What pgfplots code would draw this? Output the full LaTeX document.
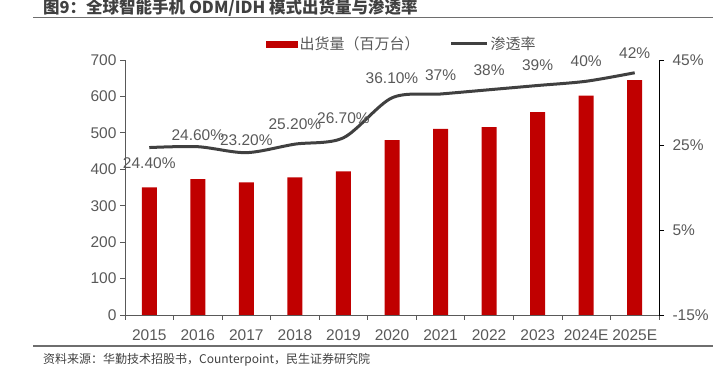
\documentclass[border=0pt]{standalone}
\usepackage{pgfplots}
\pgfplotsset{compat=1.18}
\usepackage{pgfplotstable}
\usepackage{fontspec}
\setmainfont{Liberation Sans}
\newfontfamily\cjk{Noto Sans CJK SC}
\definecolor{barred}{HTML}{C00000}
\definecolor{linegray}{HTML}{404040}
\definecolor{txtgray}{HTML}{595959}
\definecolor{rulegray}{HTML}{6E6E6E}
\pgfplotstableread{
x y
0 350
1 373
2 364
3 378
4 394
5 480
6 511
7 516
8 557
9 602
10 645
}\bartable
\pgfplotstableread{
x p lab dy
0 24.4 24.40 -15.5
1 24.6 24.60 12
2 23.2 23.20 12
3 25.2 25.20 20
4 26.7 26.70 20
5 36.1 36.10 20
6 37 37 19
7 38 38 20
8 39 39 20
9 40 40 20
10 42 42 20
}\linetable
\begin{document}
\begin{tikzpicture}
\path[use as bounding box] (0pt,0pt) rectangle (724pt,374pt);
\node[anchor=west, inner sep=0pt, text=linegray, font=\cjk\bfseries\fontsize{16.5}{19}\selectfont] at (43pt,366pt) {图9：全球智能手机 ODM/IDH 模式出货量与渗透率};
\draw[rulegray, line width=1.2pt] (33pt,356.5pt) -- (713pt,356.5pt);
\draw[rulegray, line width=1.2pt] (33pt,28pt) -- (713pt,28pt);
\node[anchor=west, inner sep=0pt, text=linegray, font=\cjk\fontsize{12}{14}\selectfont] at (43pt,14pt) {资料来源：华勤技术招股书，Counterpoint，民生证券研究院};
\begin{axis}[
  at={(125pt,59pt)}, anchor=south west,
  width=534pt, height=255pt, scale only axis,
  xmin=-0.5, xmax=10.5, ymin=0, ymax=700,
  ytick={0,100,...,700},
  xtick={0,...,10},
  xticklabels={2015,2016,2017,2018,2019,2020,2021,2022,2023,2024E,2025E},
  minor xtick={-0.5,0.5,...,10.5},
  major x tick style={draw=none},
  minor x tick style={draw=txtgray, line width=0.8pt},
  major tick length=5pt, minor tick length=5pt,
  tick align=outside,
  axis x line*=bottom, axis y line*=left,
  axis line style={draw=txtgray, line width=0.8pt},
  ytick style={draw=txtgray, line width=0.8pt},
  tick label style={text=txtgray, font=\fontsize{15.5}{18}\selectfont},
  xticklabel style={yshift=-6pt},
  /pgf/number format/assume math mode=true,
  ybar, bar width=15pt,
  clip=false,
]
\addplot[fill=barred, draw=none] table[x=x, y=y] {\bartable};
\end{axis}
\begin{axis}[
  at={(125pt,59pt)}, anchor=south west,
  width=534pt, height=255pt, scale only axis,
  xmin=-0.5, xmax=10.5, ymin=-15, ymax=45,
  ytick={-15,5,25,45},
  yticklabels={-15\%,5\%,25\%,45\%},
  axis y line*=right, axis x line=none,
  axis line style={draw=black, line width=0.8pt},
  ytick style={draw=black, line width=0.8pt},
  major tick length=5pt, tick align=outside,
  tick label style={text=txtgray, font=\fontsize{15.5}{18}\selectfont},
  yticklabel style={xshift=5pt},
  clip=false,
  legend style={at={(axis description cs:0.264,1.063)}, anchor=west,
    draw=none, fill=none, inner sep=0pt, legend columns=2,
    nodes={inner sep=2pt, anchor=west, text=txtgray, font=\cjk\fontsize{15}{18}\selectfont},
    /tikz/every even column/.append style={column sep=28pt}},
]
\addlegendimage{legend image code/.code={\fill[barred] (0pt,-3pt) rectangle (31pt,3pt);}}
\addlegendentry{出货量（百万台）}
\addplot[linegray, line width=3pt, smooth, tension=0.5,
  point meta=explicit symbolic,
  visualization depends on={\thisrow{dy} \as \dy},
  nodes near coords={\pgfplotspointmeta\%},
  nodes near coords style={anchor=center, yshift=\dy pt, text=txtgray, font=\fontsize{15.5}{18}\selectfont},
  legend image code/.code={\draw[linegray, line width=3pt] (0pt,0pt) -- (36pt,0pt);}]
  table[x=x, y=p, meta=lab] {\linetable};
\addlegendentry{渗透率}
\end{axis}
\end{tikzpicture}
\end{document}
